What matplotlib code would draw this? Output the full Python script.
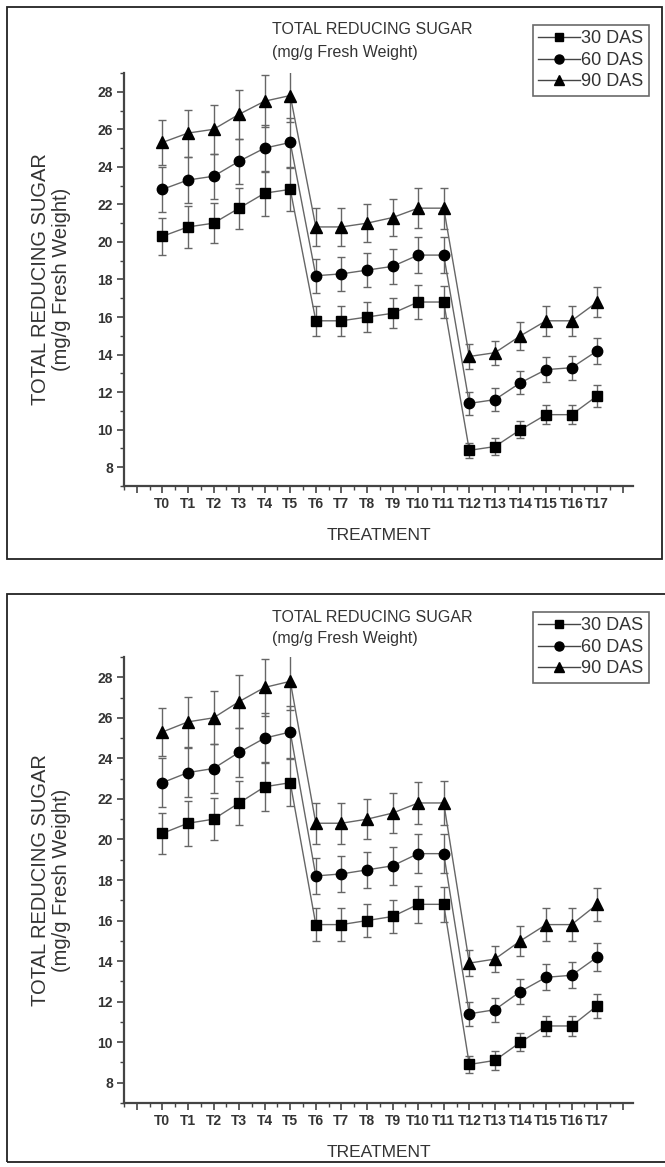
import matplotlib
matplotlib.use("Agg")
import matplotlib.pyplot as plt
from matplotlib.lines import Line2D
from matplotlib.patches import Rectangle
import numpy as np

# ---- data ----
treatments = ["T%d" % i for i in range(18)]
das_labels = ["30 DAS", "60 DAS", "90 DAS"]

sugar_30 = [20.3, 20.8, 21.0, 21.8, 22.6, 22.8, 15.8, 15.8, 16.0, 16.2, 16.8, 16.8,
            8.9, 9.1, 10.0, 10.8, 10.8, 11.8]
sugar_60 = [22.8, 23.3, 23.5, 24.3, 25.0, 25.3, 18.2, 18.3, 18.5, 18.7, 19.3, 19.3,
            11.4, 11.6, 12.5, 13.2, 13.3, 14.2]
sugar_90 = [25.3, 25.8, 26.0, 26.8, 27.5, 27.8, 20.8, 20.8, 21.0, 21.3, 21.8, 21.8,
            13.9, 14.1, 15.0, 15.8, 15.8, 16.8]

err_30 = [1.0, 1.1, 1.05, 1.1, 1.2, 1.15, 0.8, 0.8, 0.8, 0.8, 0.9, 0.85,
          0.4, 0.45, 0.45, 0.5, 0.5, 0.6]
err_60 = [1.2, 1.2, 1.2, 1.2, 1.25, 1.3, 0.9, 0.9, 0.9, 0.95, 0.95, 0.95,
          0.6, 0.6, 0.6, 0.65, 0.65, 0.7]
err_90 = [1.2, 1.25, 1.3, 1.3, 1.4, 1.4, 1.0, 1.0, 1.0, 1.0, 1.05, 1.1,
          0.65, 0.65, 0.75, 0.8, 0.8, 0.8]

markers = ["s", "o", "^"]
msizes = [6.5, 7.5, 8]

FONT = ["Liberation Sans", "DejaVu Sans"]
TXT = "#333333"

W, H = 665, 1167
fig = plt.figure(figsize=(W / 100, H / 100), dpi=100)


def fx(x):
    return x / W


def fy(y):
    return 1 - y / H


def panel(top, bottom_box, ax_top, ax_bot, right_box):
    # outer frame of the panel
    fig.patches.append(Rectangle((fx(7), fy(bottom_box)), fx(right_box - 7), (bottom_box - top) / H,
                                 transform=fig.transFigure, fill=False, lw=1.3, ec="#222222"))
    ax = fig.add_axes([fx(124), fy(ax_bot), fx(633 - 124), (ax_bot - ax_top) / H])
    x = np.arange(len(treatments))
    series = [sugar_30, sugar_60, sugar_90]
    errs = [err_30, err_60, err_90]
    for i in range(3):
        ax.errorbar(x, series[i], yerr=errs[i], fmt="-", color="#666666", lw=1.0,
                    marker=markers[i], ms=msizes[i], mfc="black", mec="black",
                    ecolor="#666666", elinewidth=1.0, capsize=3, capthick=1.0)
    ax.set_xlim(-1.5, 18.4)
    ax.set_ylim(7, 29)
    ax.set_xticks(np.arange(-1, 19))
    ax.set_xticklabels([""] + treatments + [""])
    ax.set_xticks(np.arange(-1.5, 18.5, 0.5), minor=True)
    ax.set_yticks(np.arange(8, 29, 2))
    ax.set_yticks(np.arange(7, 30, 1), minor=True)
    for s in ["top", "right"]:
        ax.spines[s].set_visible(False)
    for s in ["left", "bottom"]:
        ax.spines[s].set_linewidth(1.6)
        ax.spines[s].set_color("#444444")
    ax.tick_params(which="major", direction="out", length=5, width=1.2, color="#444444",
                   pad=3, labelsize=10)
    ax.tick_params(which="minor", direction="out", length=3, width=1.0, color="#444444")
    for lab in ax.get_xticklabels() + ax.get_yticklabels():
        lab.set_family(FONT)
        lab.set_fontweight("bold")
        lab.set_color(TXT)
    ax.set_xlabel("TREATMENT", family=FONT, fontsize=12.5, color=TXT, labelpad=12)
    ax.set_ylabel("TOTAL REDUCING SUGAR\n(mg/g Fresh Weight)", family=FONT,
                  fontsize=14.5, color=TXT, labelpad=19, linespacing=1.1)
    fig.text(fx(272), fy(top + 23), "TOTAL REDUCING SUGAR", family=FONT,
             fontsize=11.5, color=TXT, va="center", ha="left")
    fig.text(fx(272), fy(top + 45), "(mg/g Fresh Weight)", family=FONT,
             fontsize=11.5, color=TXT, va="center", ha="left")
    handles = [Line2D([], [], color="#444444", lw=1.0, marker=markers[i], ms=msizes[i] - 1,
                      mfc="black", mec="black") for i in range(3)]
    leg = ax.legend(handles, das_labels, loc="upper left", bbox_to_anchor=(fx(533), fy(top + 18)),
                    bbox_transform=fig.transFigure, frameon=True, fancybox=False,
                    handlelength=2.3, handletextpad=0.05, labelspacing=0.25,
                    borderpad=0.3, borderaxespad=0,
                    prop={"family": FONT, "size": 13})
    leg.get_frame().set_edgecolor("#444444")
    leg.get_frame().set_linewidth(1.2)
    for t in leg.get_texts():
        t.set_color(TXT)
    return ax


panel(7, 559, 73, 486, 662)
panel(594, 1162, 657, 1103, 667)

fig.savefig("out.png", dpi=100)
